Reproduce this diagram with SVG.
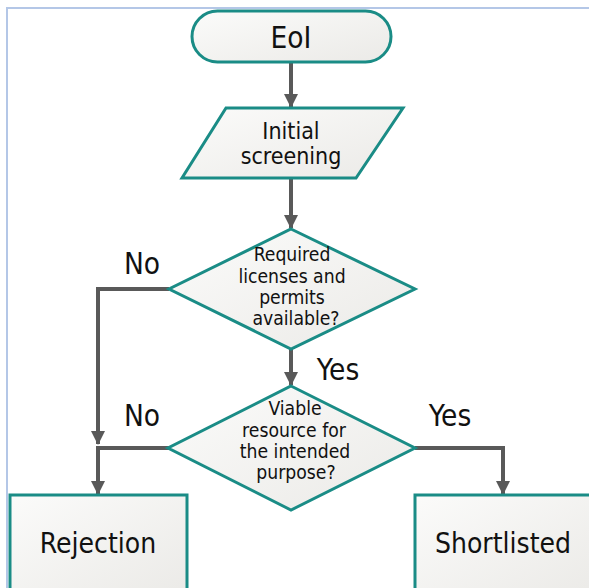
<svg xmlns="http://www.w3.org/2000/svg" width="589" height="588" viewBox="0 0 589 588">
<style>
.shape{fill:url(#g);stroke:#1a8c86;stroke-width:3}
.conn{fill:none;stroke:#595959;stroke-width:4}
text{font-family:"DejaVu Sans Condensed","DejaVu Sans",Verdana,sans-serif;font-stretch:condensed;fill:#111;text-anchor:middle}
.big{font-size:29.5px}
.mid{font-size:23px}
.sm{font-size:19.2px}
.box{font-size:28px}
</style>
<defs>
<linearGradient id="g" x1="0" y1="0" x2="1" y2="1">
<stop offset="0" stop-color="#fbfbfa"/>
<stop offset="1" stop-color="#ebeae7"/>
</linearGradient>
<marker id="arr" markerUnits="userSpaceOnUse" markerWidth="14" markerHeight="14" viewBox="0 0 14 14" refX="13" refY="7" orient="auto">
<path d="M0,0 L14,7 L0,14 Z" fill="#595959"/>
</marker>
</defs>
<path d="M7,588 V8 H589" fill="none" stroke="#b4c7e7" stroke-width="2"/>
<g id="connectors">
<path class="conn" d="M291,62 V107" marker-end="url(#arr)"/>
<path class="conn" d="M291,178 V228" marker-end="url(#arr)"/>
<path class="conn" d="M291,349 V385" marker-end="url(#arr)"/>
<path class="conn" d="M169,289 H98 V444" marker-end="url(#arr)"/>
<path class="conn" d="M169,448 H98 V494" marker-end="url(#arr)"/>
<path class="conn" d="M415,448 H503 V494" marker-end="url(#arr)"/>
<text class="big" x="142" y="274">No</text>
<text class="big" x="338" y="380">Yes</text>
<text class="big" x="142" y="426">No</text>
<text class="big" x="450" y="426">Yes</text>
</g>
<g id="eoi">
<rect class="shape" x="192" y="11" width="199" height="51" rx="25.5"/>
<text class="big" x="291" y="48">EoI</text>
</g>
<g id="screening">
<polygon class="shape" points="226,108 403,108 356,178 182,178"/>
<text class="mid" x="291" y="139">Initial</text>
<text class="mid" x="291" y="164">screening</text>
</g>
<g id="licenses">
<polygon class="shape" points="291,229 415,289 291,349 169,289"/>
<text class="sm" x="292" y="261">Required</text>
<text class="sm" x="292" y="283">licenses and</text>
<text class="sm" x="292" y="304">permits</text>
<text class="sm" x="296" y="325">available?</text>
</g>
<g id="viable">
<polygon class="shape" points="291,386 415,448 291,510 168,448"/>
<text class="sm" x="295" y="415">Viable</text>
<text class="sm" x="294" y="437">resource for</text>
<text class="sm" x="295" y="458">the intended</text>
<text class="sm" x="296" y="479">purpose?</text>
</g>
<g id="rejection">
<rect class="shape" x="10" y="495" width="177" height="100"/>
<text class="box" x="98" y="553">Rejection</text>
</g>
<g id="shortlisted">
<rect class="shape" x="415" y="495" width="180" height="100"/>
<text class="box" x="503" y="553">Shortlisted</text>
</g>
</svg>
